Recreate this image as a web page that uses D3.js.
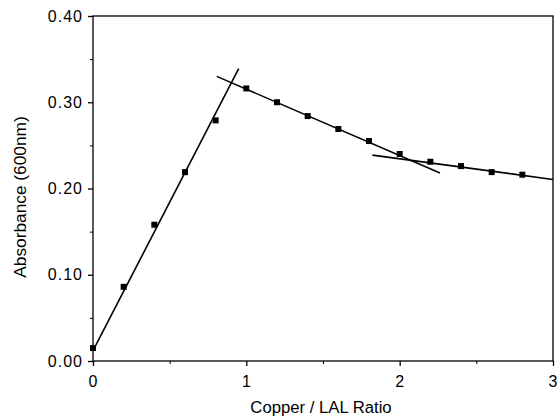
<!DOCTYPE html>
<html>
<head>
<meta charset="utf-8">
<script src="https://cdn.jsdelivr.net/npm/d3@7"></script>
<style>
  body { margin: 0; background: #fff; }
  svg { display: block; }
  text { font-family: "Liberation Sans", Arial, Helvetica, sans-serif; fill: #000; }
</style>
</head>
<body>
<svg id="chart" width="557" height="420"></svg>
<script>
// Data
const ratio = [0, 0.2, 0.4, 0.6, 0.8, 1.0, 1.2, 1.4, 1.6, 1.8, 2.0, 2.2, 2.4, 2.6, 2.8];
const absorbance = [0.015, 0.086, 0.158, 0.219, 0.279, 0.316, 0.300, 0.284, 0.269, 0.255, 0.240, 0.231, 0.226, 0.219, 0.216];
// Fitted tangent lines: [x1, y1, x2, y2]
const fitLines = [
  [0, 0.012, 0.95, 0.339],
  [0.807, 0.330, 2.263, 0.218],
  [1.822, 0.2387, 3.0, 0.2105]
];
const xTicks = [0, 1, 2, 3];
const xTickLabels = ["0", "1", "2", "3"];
const yTicks = [0, 0.1, 0.2, 0.3, 0.4];
const yTickLabels = ["0.00", "0.10", "0.20", "0.30", "0.40"];
const xMinor = [0.5, 1.5, 2.5];
const yMinor = [0.05, 0.15, 0.25, 0.35];

const svg = d3.select("#chart");
const L = 93, R = 553, T = 16, B = 361;
const x = d3.scaleLinear().domain([0, 3]).range([L, R]);
const y = d3.scaleLinear().domain([0, 0.4]).range([B, T]);

// frame
svg.append("rect").attr("x", L).attr("y", T).attr("width", R - L).attr("height", B - T)
  .attr("fill", "none").attr("stroke", "#000").attr("stroke-width", 1.3);

// x axis
const xAxis = d3.axisBottom(x).tickValues(xTicks).tickFormat((d, i) => xTickLabels[i]).tickSize(5).tickPadding(10);
const gx = svg.append("g").attr("transform", `translate(0,${B})`).call(xAxis);
gx.select(".domain").remove();
gx.selectAll("line").attr("stroke", "#000").attr("stroke-width", 1.3);
gx.selectAll("text").attr("font-size", 16).style("letter-spacing", "1px")
  .style("font-family", '"Liberation Sans", Arial, sans-serif');
svg.append("g").attr("transform", `translate(0,${B})`)
  .call(d3.axisBottom(x).tickValues(xMinor).tickFormat("").tickSize(3))
  .call(g => g.select(".domain").remove())
  .selectAll("line").attr("stroke", "#000");

// y axis
const yAxis = d3.axisLeft(y).tickValues(yTicks).tickFormat((d, i) => yTickLabels[i]).tickSize(5).tickPadding(5);
const gy = svg.append("g").attr("transform", `translate(${L},0)`).call(yAxis);
gy.select(".domain").remove();
gy.selectAll("line").attr("stroke", "#000").attr("stroke-width", 1.3);
gy.selectAll("text").attr("font-size", 16).style("letter-spacing", "1px")
  .style("font-family", '"Liberation Sans", Arial, sans-serif');
svg.append("g").attr("transform", `translate(${L},0)`)
  .call(d3.axisLeft(y).tickValues(yMinor).tickFormat("").tickSize(3))
  .call(g => g.select(".domain").remove())
  .selectAll("line").attr("stroke", "#000");

// fit lines
svg.append("g").selectAll("line").data(fitLines).join("line")
  .attr("x1", d => x(d[0])).attr("y1", d => y(d[1]))
  .attr("x2", d => x(d[2])).attr("y2", d => y(d[3]))
  .attr("stroke", "#000").attr("stroke-width", 1.6);

// points
svg.append("g").selectAll("rect").data(ratio).join("rect")
  .attr("x", (d) => x(d) - 3).attr("y", (d, i) => y(absorbance[i]) - 3)
  .attr("width", 6).attr("height", 6).attr("fill", "#000");

// axis titles
svg.append("text").attr("x", 321).attr("y", 413).attr("text-anchor", "middle")
  .attr("font-size", 16.7).text("Copper / LAL Ratio");
svg.append("text").attr("transform", "translate(26,197) rotate(-90)").attr("text-anchor", "middle")
  .attr("font-size", 17.3).text("Absorbance (600nm)");
</script>
</body>
</html>
